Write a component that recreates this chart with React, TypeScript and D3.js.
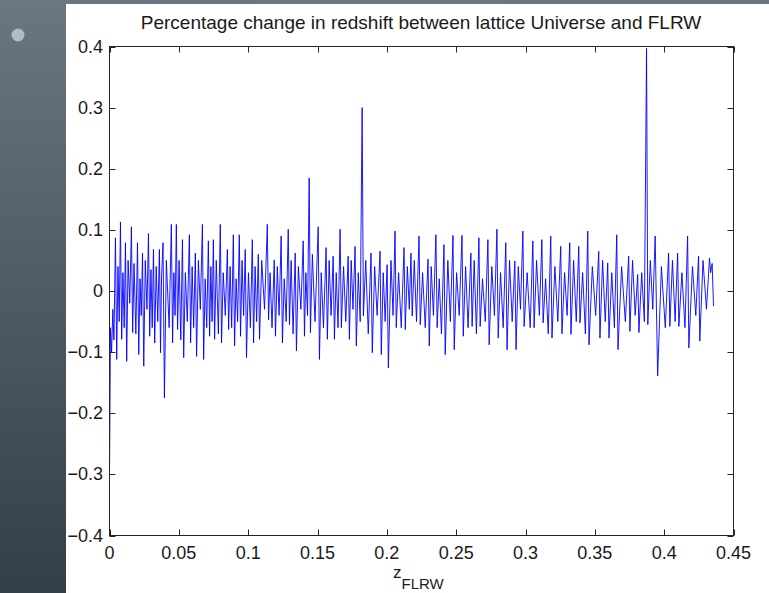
import React from 'react'
import * as d3 from 'd3'

// percentage change in redshift as [zFLRW, percent]
const segA: [number, number][] = [
  [0, -0.3], [0.0007, -0.06], [0.0015, -0.1], [0.0024, -0.03], [0.0032, -0.08],
  [0.0043, 0.087], [0.0052, -0.112], [0.0061, 0.04], [0.007, -0.05],
  [0.0079, 0.113], [0.0088, -0.079], [0.0097, 0.03], [0.0106, -0.06],
  [0.0115, 0.079], [0.0124, -0.115], [0.0134, 0.05], [0.0146, -0.02],
  [0.0158, 0.105], [0.0167, -0.068], [0.0177, 0.045], [0.019, -0.07],
  [0.0202, 0.079], [0.0211, -0.104], [0.022, 0.02], [0.0229, -0.04],
  [0.0238, 0.062], [0.0247, -0.123], [0.0258, 0.05], [0.027, -0.03],
  [0.0281, 0.094], [0.029, -0.074], [0.0299, 0.035], [0.0308, -0.06],
  [0.0317, 0.068], [0.0326, -0.085], [0.0337, 0.04], [0.0348, -0.05],
  [0.036, 0.068], [0.0368, -0.101], [0.0375, 0.02],
  [0.0386, 0.079], [0.0396, -0.175], [0.041, 0.05], [0.043, -0.06],
  [0.0446, 0.109], [0.0455, -0.085], [0.0464, 0.03], [0.0473, -0.04],
  [0.0482, 0.109], [0.0491, -0.063], [0.0502, 0.05], [0.0514, -0.08],
  [0.0526, 0.084], [0.0535, -0.109], [0.0547, 0.03], [0.0561, -0.05],
  [0.0576, 0.092], [0.0585, -0.085], [0.0596, 0.04], [0.0607, -0.06],
  [0.0619, 0.062], [0.0628, -0.107], [0.0641, 0.05], [0.0655, -0.03],
  [0.067, 0.109], [0.0679, -0.112], [0.069, 0.02], [0.0701, -0.06],
  [0.0713, 0.082], [0.0722, -0.074], [0.0731, 0.04], [0.074, -0.05],
  [0.0749, 0.084], [0.0758, -0.079], [0.077, 0.05], [0.0785, -0.07],
  [0.0799, 0.109], [0.0808, -0.085], [0.082, 0.03], [0.0835, -0.04],
  [0.085, 0.068], [0.0859, -0.063], [0.087, 0.04], [0.0881, -0.06],
  [0.0893, 0.092], [0.0902, -0.09], [0.0913, 0.02], [0.0924, -0.05],
  [0.0936, 0.092], [0.0945, -0.074], [0.0956, 0.05], [0.0967, -0.04],
  [0.0979, 0.068], [0.0988, -0.109], [0.1002, 0.03], [0.1016, -0.06],
  [0.103, 0.084], [0.1039, -0.085], [0.105, 0.04], [0.1061, -0.05],
  [0.1073, 0.06], [0.1082, -0.079], [0.1098, 0.05], [0.1118, -0.03],
]

const segB: [number, number][] = [
  [0.1138, 0.109], [0.1147, -0.047], [0.1158, 0.03], [0.1172, -0.06],
  [0.1188, 0.051], [0.1197, -0.074], [0.121, 0.04], [0.1223, -0.04],
  [0.1238, 0.09], [0.1247, -0.085], [0.126, 0.02], [0.1274, -0.05],
  [0.1289, 0.101], [0.1298, -0.055], [0.131, 0.05], [0.1324, -0.07],
  [0.1339, 0.062], [0.1348, -0.098], [0.1362, 0.04], [0.138, -0.03],
  [0.1397, 0.082], [0.1406, -0.074], [0.1416, 0.03], [0.1428, -0.04],
  [0.144, 0.185], [0.1449, -0.068], [0.1463, 0.06], [0.1482, -0.05],
  [0.1505, 0.105], [0.1514, -0.112], [0.1527, 0.03], [0.1543, -0.06],
  [0.1562, 0.071], [0.1571, -0.079], [0.1584, 0.05], [0.1598, -0.04],
  [0.1613, 0.057], [0.1622, -0.079], [0.1635, 0.03], [0.1648, -0.06],
  [0.1663, 0.101], [0.1672, -0.06], [0.1688, 0.04], [0.1704, -0.05],
  [0.1721, 0.057], [0.173, -0.079], [0.1743, 0.05], [0.1756, -0.03],
  [0.1771, 0.073], [0.178, -0.09], [0.1794, 0.03], [0.1808, -0.05],
  [0.1822, 0.3], [0.1831, -0.041], [0.1848, 0.05], [0.1866, -0.07],
  [0.1886, 0.062], [0.1895, -0.101], [0.1912, 0.04], [0.193, -0.04],
  [0.1951, 0.065], [0.196, -0.104], [0.1974, 0.03], [0.1988, -0.05],
  [0.2002, 0.043], [0.2011, -0.126], [0.203, 0.05], [0.2045, -0.04],
  [0.2059, 0.098], [0.2068, -0.06], [0.2085, 0.03], [0.2104, -0.06],
  [0.2124, 0.071], [0.2133, -0.063], [0.2148, 0.04], [0.2162, -0.03],
  [0.2174, 0.062], [0.2183, -0.041], [0.2198, 0.05], [0.2214, -0.05],
]

const segC: [number, number][] = [
  [0.2232, 0.09], [0.2241, -0.055], [0.2258, 0.03], [0.2277, -0.06],
  [0.2297, 0.052], [0.2306, -0.09], [0.232, 0.04], [0.2336, -0.04],
  [0.2354, 0.092], [0.2363, -0.06], [0.2378, 0.02], [0.2394, -0.07],
  [0.2412, 0.076], [0.2421, -0.104], [0.244, 0.05], [0.2458, -0.05],
  [0.2477, 0.091], [0.2486, -0.096], [0.2503, 0.03], [0.2522, -0.04],
  [0.2542, 0.091], [0.2551, -0.074], [0.2568, 0.04], [0.2586, -0.06],
  [0.2606, 0.062], [0.2615, -0.058], [0.263, 0.05], [0.2646, -0.07],
  [0.2664, 0.087], [0.2673, -0.058], [0.269, 0.02], [0.271, -0.05],
  [0.2729, 0.084], [0.2738, -0.088], [0.2757, 0.04], [0.2776, -0.04],
  [0.2794, 0.101], [0.2803, -0.077], [0.282, 0.03], [0.2839, -0.06],
  [0.2858, 0.079], [0.2867, -0.096], [0.2885, 0.05], [0.2904, -0.05],
  [0.2923, 0.049], [0.2932, -0.096], [0.2948, 0.04], [0.2964, -0.03],
  [0.2981, 0.098], [0.299, -0.058], [0.3012, 0.03], [0.3034, -0.06],
  [0.3053, 0.082], [0.3062, -0.06], [0.308, 0.05], [0.31, -0.04],
  [0.3118, 0.084], [0.3127, -0.052], [0.3145, 0.02], [0.3164, -0.07],
  [0.3182, 0.09], [0.3191, -0.077], [0.3212, 0.04], [0.3233, -0.05],
  [0.3254, 0.073], [0.3263, -0.07], [0.3282, 0.03], [0.33, -0.04],
]

const segD: [number, number][] = [
  [0.3319, 0.079], [0.3328, -0.071], [0.3347, 0.05], [0.3366, -0.05],
  [0.3384, 0.073], [0.3393, -0.052], [0.3412, 0.03], [0.3432, -0.07],
  [0.3449, 0.098], [0.3458, -0.088], [0.3482, 0.04], [0.3506, -0.04],
  [0.3528, 0.065], [0.3537, -0.077], [0.3556, 0.05], [0.3575, -0.05],
  [0.3593, 0.046], [0.3602, -0.077], [0.3622, 0.03], [0.3641, -0.06],
  [0.3658, 0.092], [0.3667, -0.096], [0.3693, 0.04], [0.372, -0.05],
  [0.3744, 0.057], [0.3753, -0.066], [0.3772, 0.05], [0.3791, -0.04],
  [0.3809, 0.027], [0.3818, -0.068], [0.3838, 0.03], [0.3857, -0.05],
  [0.3873, 0.397], [0.3882, -0.055], [0.39, 0.05], [0.3918, -0.03],
  [0.3935, 0.09], [0.3953, -0.139], [0.398, 0.04], [0.4008, -0.06],
  [0.4032, 0.062], [0.4041, -0.058], [0.406, 0.05], [0.4079, -0.05],
  [0.4097, 0.062], [0.4106, -0.058], [0.4128, 0.03], [0.415, -0.06],
  [0.4169, 0.09], [0.4178, -0.093], [0.4204, 0.04], [0.4228, -0.04],
  [0.4248, 0.057], [0.4257, -0.082], [0.428, 0.05], [0.4305, -0.03],
  [0.4327, 0.054], [0.4335, 0.03], [0.4346, 0.045], [0.4356, -0.025],
]

const xTicks = [0, 0.05, 0.1, 0.15, 0.2, 0.25, 0.3, 0.35, 0.4, 0.45]
const xTickLabels = ['0', '0.05', '0.1', '0.15', '0.2', '0.25', '0.3', '0.35', '0.4', '0.45']
const yTicks = [0.4, 0.3, 0.2, 0.1, 0, -0.1, -0.2, -0.3, -0.4]
const yTickLabels = ['0.4', '0.3', '0.2', '0.1', '0', '\u22120.1', '\u22120.2', '\u22120.3', '\u22120.4']

const title = 'Percentage change in redshift between lattice Universe and FLRW'

const W = 769
const H = 593
const font = '"Liberation Sans", Arial, Helvetica, sans-serif'

export default function App() {
  const x = d3.scaleLinear().domain([0, 0.45]).range([109.5, 733.5])
  const y = d3.scaleLinear().domain([-0.4, 0.4]).range([535.5, 46.5])
  const data = [...segA, ...segB, ...segC, ...segD]
  const line = d3
    .line<[number, number]>()
    .x(d => x(d[0]))
    .y(d => y(d[1]))

  const [x0, x1] = x.range()
  const [y0, y1] = y.range()
  const tick = 6

  return (
    <svg width={W} height={H} style={{ position: 'absolute', left: 0, top: 0 }} fontFamily={font}>
      <defs>
        <linearGradient id="side" x1="0" y1="0" x2="0" y2="1">
          <stop offset="0" stopColor="#6a7780" />
          <stop offset="1" stopColor="#343e48" />
        </linearGradient>
      </defs>
      <rect width={W} height={H} fill="url(#side)" />
      <rect x={66} y={4} width={W - 66} height={H - 4} fill="#fff" />
      <circle cx={18} cy={35} r={6.5} fill="#a9bfc4" />

      <text x={421} y={29} textAnchor="middle" fontSize={19} fill="#1a1a1a">
        {title}
      </text>

      <path d={line(data) ?? ''} fill="none" stroke="#0000ff" strokeWidth={0.9} strokeLinejoin="round" />

      <g stroke="#262626" strokeWidth={1} fill="none">
        <rect x={x0} y={y1} width={x1 - x0} height={y0 - y1} />
        {xTicks.map(t => (
          <g key={'xt' + t}>
            <line x1={Math.round(x(t)) + 0.5} x2={Math.round(x(t)) + 0.5} y1={y0} y2={y0 - tick} />
            <line x1={Math.round(x(t)) + 0.5} x2={Math.round(x(t)) + 0.5} y1={y1} y2={y1 + tick} />
          </g>
        ))}
        {yTicks.map(t => (
          <g key={'yt' + t}>
            <line x1={x0} x2={x0 + tick} y1={Math.round(y(t)) + 0.5} y2={Math.round(y(t)) + 0.5} />
            <line x1={x1} x2={x1 - tick} y1={Math.round(y(t)) + 0.5} y2={Math.round(y(t)) + 0.5} />
          </g>
        ))}
      </g>

      <g fontSize={18} fill="#1a1a1a">
        {xTicks.map((t, i) => (
          <text key={'xl' + t} x={x(t)} y={559} textAnchor="middle">
            {xTickLabels[i]}
          </text>
        ))}
        {yTicks.map((t, i) => (
          <text key={'yl' + t} x={103} y={y(t) + 6} textAnchor="end">
            {yTickLabels[i]}
          </text>
        ))}
      </g>

      <text x={393} y={578} fontSize={17} fill="#1a1a1a">
        z
        <tspan fontSize={15} dy={11}>
          FLRW
        </tspan>
      </text>
    </svg>
  )
}
